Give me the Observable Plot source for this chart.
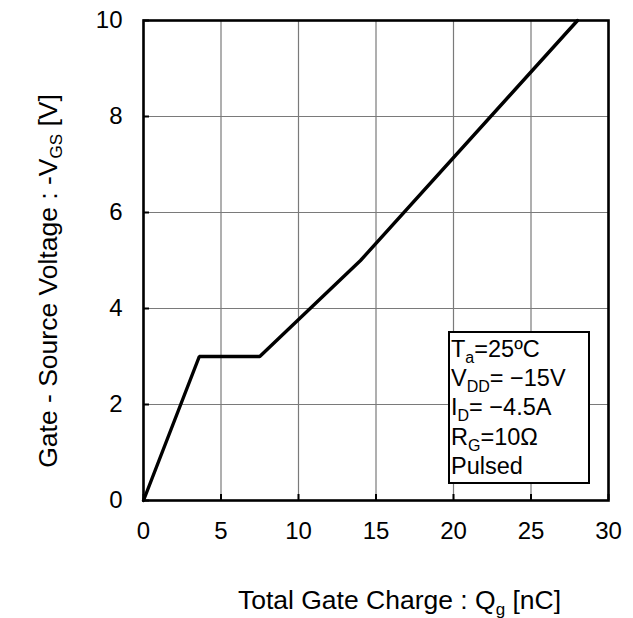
<!DOCTYPE html>
<html>
<head>
<meta charset="utf-8">
<script src="https://cdn.jsdelivr.net/npm/d3@7"></script>
<script src="https://cdn.jsdelivr.net/npm/@observablehq/plot@0.6"></script>
<style>
  html, body { margin: 0; padding: 0; background: #fff; }
  svg { display: block; }
</style>
</head>
<body>
<div id="chart"></div>
<script>
// Gate charge curve: total gate charge Qg [nC] vs. gate-source voltage -VGS [V]
const charge = [0, 3.6, 7.5, 14, 28];
const voltage = [0, 3, 3, 5, 10];

const xTicks = [0, 5, 10, 15, 20, 25, 30];
const yTicks = [0, 2, 4, 6, 8, 10];

// Test conditions shown in the boxed note: [main, subscript, rest]
const conditions = [
  ["T", "a", "=25ºC"],
  ["V", "DD", "= \u221215V"],
  ["I", "D", "= \u22124.5A"],
  ["R", "G", "=10\u03A9"],
  ["Pulsed", "", ""]
];

const font = "'Liberation Sans', Arial, Helvetica, sans-serif";
const W = 633, H = 618;
const mL = 143, mR = 25, mT = 20, mB = 118;
const innerW = W - mL - mR, innerH = H - mT - mB;

const points = charge.map((q, i) => ({q, v: voltage[i]}));

const chart = Plot.plot({
  width: W,
  height: H,
  marginLeft: mL,
  marginRight: mR,
  marginTop: mT,
  marginBottom: mB,
  style: {fontFamily: font, fontSize: "24px", color: "#000", background: "#fff"},
  x: {domain: [0, 30], ticks: xTicks, label: null, tickSize: 0, tickPadding: 21},
  y: {domain: [0, 10], ticks: yTicks, label: null, tickSize: 0, tickPadding: 21},
  marks: [
    Plot.gridX(xTicks, {stroke: "#7a7a7a", strokeOpacity: 1, strokeWidth: 1.2}),
    Plot.gridY(yTicks, {stroke: "#7a7a7a", strokeOpacity: 1, strokeWidth: 1.2}),
    // short inward tick marks along the bottom and left edges
    Plot.tickX(xTicks, {x: d => d, insetTop: innerH - 6, stroke: "#000", strokeWidth: 2}),
    Plot.tickY(yTicks, {y: d => d, insetRight: innerW - 6, stroke: "#000", strokeWidth: 2}),
    Plot.line(points, {x: "q", y: "v", stroke: "#000", strokeWidth: 3.4, strokeLinejoin: "miter"}),
    Plot.frame({stroke: "#000", strokeWidth: 2.6})
  ]
});

document.getElementById("chart").appendChild(chart);

const svg = d3.select(chart);
const sx = chart.scale("x"), sy = chart.scale("y");

// Text with a subscript part, built from tspans
function labelWithSub(sel, parts, subSize, shift) {
  const [main, sub, rest] = parts;
  sel.append("tspan").text(main);
  if (sub) {
    sel.append("tspan").attr("font-size", subSize).attr("dy", shift).text(sub);
    sel.append("tspan").attr("dy", -shift).text(rest);
  }
  return sel;
}

// Axis titles
const xTitle = svg.append("text")
  .attr("x", (sx.apply(0) + sx.apply(30)) / 2 + 24)
  .attr("y", sy.apply(0) + 109)
  .attr("text-anchor", "middle")
  .attr("font-family", font)
  .attr("font-size", 26.5)
  .attr("fill", "#000");
labelWithSub(xTitle, ["Total Gate Charge : Q", "g", " [nC]"], 17, 6);

const yTitle = svg.append("text")
  .attr("transform", `translate(57,${(sy.apply(0) + sy.apply(10)) / 2 + 21}) rotate(-90)`)
  .attr("text-anchor", "middle")
  .attr("font-family", font)
  .attr("font-size", 26.5)
  .attr("fill", "#000");
labelWithSub(yTitle, ["Gate - Source Voltage : -V", "GS", " [V]"], 17, 5);

// Conditions note box, anchored to the lower-right corner of the frame
const boxRight = sx.apply(30) - 19, boxBottom = sy.apply(0) - 17;
const boxW = 140, boxH = 151;
svg.append("rect")
  .attr("x", boxRight - boxW)
  .attr("y", boxBottom - boxH)
  .attr("width", boxW)
  .attr("height", boxH)
  .attr("fill", "#fff")
  .attr("stroke", "#000")
  .attr("stroke-width", 2);

conditions.forEach((c, i) => {
  const t = svg.append("text")
    .attr("x", boxRight - boxW + 2)
    .attr("y", boxBottom - boxH + 25 + i * 29.2)
    .attr("text-anchor", "start")
    .attr("font-family", font)
    .attr("font-size", 23.5)
    .attr("fill", "#000");
  labelWithSub(t, c, 16, 6);
});
</script>
</body>
</html>
